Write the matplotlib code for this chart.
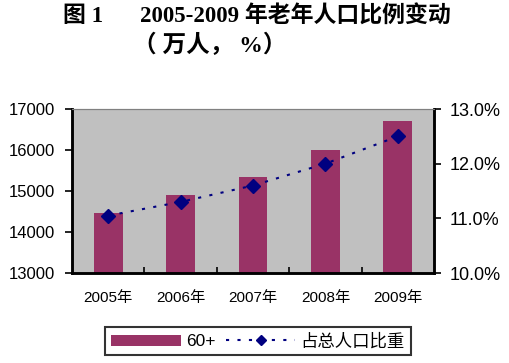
import matplotlib.pyplot as plt
import numpy as np
from matplotlib.ticker import FixedLocator, FuncFormatter

plt.rcParams['font.family'] = ['Liberation Sans', 'Noto Sans CJK SC']

years = ['2005年', '2006年', '2007年', '2008年', '2009年']
elderly = [14470, 14901, 15340, 15989, 16714]        # 60+ population, 10k people
share = [11.05, 11.3, 11.6, 12.0, 12.5]              # share of total population, %

bar_color = '#993366'
line_color = '#000080'
title_font = ['Liberation Serif', 'Noto Sans CJK SC']

fig = plt.figure(figsize=(5.1, 3.63), dpi=100)
ax = fig.add_axes([72 / 510, 90 / 363, 362 / 510, 164 / 363])
ax.set_facecolor('#C0C0C0')

x = np.arange(len(years))
bars = ax.bar(x, elderly, width=0.4, color=bar_color, zorder=2)
ax.set_xlim(-0.5, len(years) - 0.5)
ax.set_ylim(13000, 17000)
ax.set_yticks([13000, 14000, 15000, 16000, 17000])
ax.set_xticks(x)
ax.set_xticklabels(years, fontsize=11)
ax.xaxis.set_minor_locator(FixedLocator(np.arange(0.5, len(years) - 0.5, 1)))
ax.tick_params(axis='x', which='major', length=0, pad=13)
ax.tick_params(axis='x', which='minor', direction='in', length=4, width=1.2)
ax.tick_params(axis='y', direction='out', length=5, width=1.2, labelsize=12, pad=7)

ax2 = ax.twinx()
line, = ax2.plot(x, share, linestyle=(0, (1.5, 4)), color=line_color, lw=1.5,
                 marker='D', markersize=7, markerfacecolor=line_color,
                 markeredgecolor=line_color, zorder=3)
ax2.set_ylim(10, 13)
ax2.set_yticks([10, 11, 12, 13])
ax2.yaxis.set_major_formatter(FuncFormatter(lambda v, p: f'{v:.1f}%'))
ax2.tick_params(axis='y', direction='out', length=5, width=1.2, labelsize=13, pad=6)

for a in (ax, ax2):
    a.spines['top'].set_color('#808080')
    a.spines['left'].set_linewidth(1.8)
    a.spines['bottom'].set_linewidth(1.8)
    a.spines['right'].set_linewidth(1.8)

fig.text(63 / 510, 1 - 17 / 363, '图 1', ha='left', va='center',
         fontsize=16.5, fontweight='bold', family=title_font)
fig.text(140 / 510, 1 - 17 / 363, '2005-2009 年老年人口比例变动', ha='left', va='center',
         fontsize=16.5, fontweight='bold', family=title_font)
fig.text(133 / 510, 1 - 45 / 363, '（ 万人， %）', ha='left', va='center',
         fontsize=17, fontweight='bold', family=title_font)

leg = fig.legend([bars, line], ['60+', '占总人口比重'], loc='center',
                 bbox_to_anchor=(258 / 510, 1 - 341 / 363), ncol=2, fontsize=12.5,
                 frameon=True, fancybox=False, edgecolor='black', handlelength=4,
                 handleheight=0.6, columnspacing=0.6, handletextpad=0.3,
                 borderpad=0.35, markerscale=0.8)
leg.get_frame().set_linewidth(1.5)

fig.savefig('out.png', dpi=100)
